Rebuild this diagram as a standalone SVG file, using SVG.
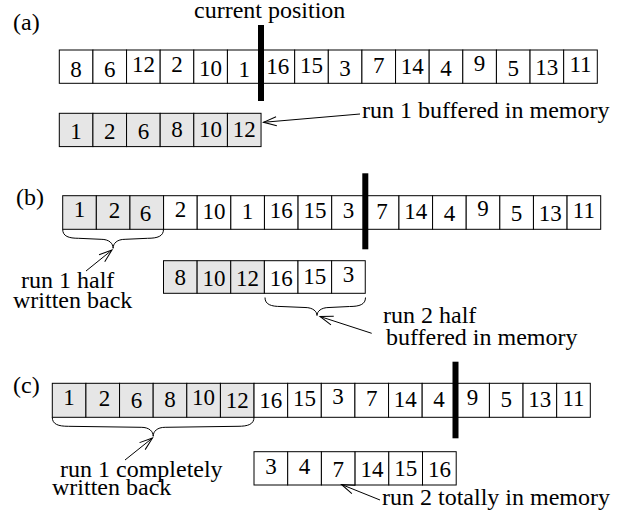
<svg xmlns="http://www.w3.org/2000/svg" width="625" height="518" viewBox="0 0 625 518">
<defs>
<style>
.c{fill:#fff;stroke:#000;stroke-width:1}
.g{fill:#e6e6e6;stroke:#000;stroke-width:1}
.n{font-family:"Liberation Serif","Times New Roman",serif;font-size:23px;text-anchor:middle;fill:#000}
.t{font-family:"Liberation Serif","Times New Roman",serif;font-size:24px;fill:#000}
.bar{fill:#000}
.br{fill:none;stroke:#000;stroke-width:1}
.ar{fill:none;stroke:#000;stroke-width:1}
</style>
<marker id="ah" markerUnits="userSpaceOnUse" markerWidth="16" markerHeight="12" refX="14" refY="6" orient="auto" viewBox="0 0 16 12">
<path d="M1,1.5 L14,6 L1,10.5" fill="none" stroke="#000" stroke-width="1"/>
</marker>
</defs>

<g id="labels">
<text class="t" x="13" y="30">(a)</text>
<text class="t" x="16" y="205">(b)</text>
<text class="t" x="13" y="393">(c)</text>
<text class="t" x="194" y="18">current position</text>
<text class="t" x="362" y="118">run 1 buffered in memory</text>
<text class="t" x="21" y="288">run 1 half</text>
<text class="t" x="13" y="308">written back</text>
<text class="t" x="383" y="323">run 2 half</text>
<text class="t" x="386" y="345">buffered in memory</text>
<text class="t" x="60" y="477">run 1 completely</text>
<text class="t" x="52" y="495">written back</text>
<text class="t" x="382" y="505">run 2 totally in memory</text>
</g>

<g id="array-a">
<rect class="c" x="59.3" y="50" width="33.625" height="33.3"/>
<rect class="c" x="92.925" y="50" width="33.625" height="33.3"/>
<rect class="c" x="126.55" y="50" width="33.625" height="33.3"/>
<rect class="c" x="160.175" y="50" width="33.625" height="33.3"/>
<rect class="c" x="193.8" y="50" width="33.625" height="33.3"/>
<rect class="c" x="227.425" y="50" width="33.625" height="33.3"/>
<rect class="c" x="261.05" y="50" width="33.625" height="33.3"/>
<rect class="c" x="294.675" y="50" width="33.625" height="33.3"/>
<rect class="c" x="328.3" y="50" width="33.625" height="33.3"/>
<rect class="c" x="361.925" y="50" width="33.625" height="33.3"/>
<rect class="c" x="395.55" y="50" width="33.625" height="33.3"/>
<rect class="c" x="429.175" y="50" width="33.625" height="33.3"/>
<rect class="c" x="462.8" y="50" width="33.625" height="33.3"/>
<rect class="c" x="496.425" y="50" width="33.625" height="33.3"/>
<rect class="c" x="530.05" y="50" width="33.625" height="33.3"/>
<rect class="c" x="563.675" y="50" width="33.625" height="33.3"/>
<text class="n" x="76.1" y="76.7">8</text>
<text class="n" x="109.7" y="76.7">6</text>
<text class="n" x="143.4" y="71.7">12</text>
<text class="n" x="177.0" y="71.7">2</text>
<text class="n" x="210.6" y="75.7">10</text>
<text class="n" x="244.2" y="76.7">1</text>
<text class="n" x="277.8" y="74.3">16</text>
<text class="n" x="311.5" y="73.3">15</text>
<text class="n" x="345.1" y="75.7">3</text>
<text class="n" x="378.7" y="73.3">7</text>
<text class="n" x="412.3" y="74.3">14</text>
<text class="n" x="446.0" y="75.7">4</text>
<text class="n" x="479.6" y="71">9</text>
<text class="n" x="513.2" y="75.7">5</text>
<text class="n" x="546.8" y="75">13</text>
<text class="n" x="580.5" y="71.7">11</text>
<rect class="bar" x="258" y="25" width="6" height="76"/>
</g>

<g id="memory-a">
<rect class="g" x="59.3" y="113.3" width="33.625" height="33.3"/>
<rect class="g" x="92.925" y="113.3" width="33.625" height="33.3"/>
<rect class="g" x="126.55" y="113.3" width="33.625" height="33.3"/>
<rect class="g" x="160.175" y="113.3" width="33.625" height="33.3"/>
<rect class="g" x="193.8" y="113.3" width="33.625" height="33.3"/>
<rect class="g" x="227.425" y="113.3" width="33.625" height="33.3"/>
<text class="n" x="76.1" y="139.3">1</text>
<text class="n" x="109.7" y="139.3">2</text>
<text class="n" x="143.4" y="139.3">6</text>
<text class="n" x="177.0" y="136.7">8</text>
<text class="n" x="210.6" y="136.7">10</text>
<text class="n" x="244.2" y="136.7">12</text>
</g>

<g id="array-b">
<rect class="g" x="62.7" y="195.7" width="33.625" height="33.6"/>
<rect class="g" x="96.325" y="195.7" width="33.625" height="33.6"/>
<rect class="g" x="129.95" y="195.7" width="33.625" height="33.6"/>
<rect class="c" x="163.575" y="195.7" width="33.625" height="33.6"/>
<rect class="c" x="197.2" y="195.7" width="33.625" height="33.6"/>
<rect class="c" x="230.825" y="195.7" width="33.625" height="33.6"/>
<rect class="c" x="264.45" y="195.7" width="33.625" height="33.6"/>
<rect class="c" x="298.075" y="195.7" width="33.625" height="33.6"/>
<rect class="c" x="331.7" y="195.7" width="33.625" height="33.6"/>
<rect class="c" x="365.325" y="195.7" width="33.625" height="33.6"/>
<rect class="c" x="398.95" y="195.7" width="33.625" height="33.6"/>
<rect class="c" x="432.575" y="195.7" width="33.625" height="33.6"/>
<rect class="c" x="466.2" y="195.7" width="33.625" height="33.6"/>
<rect class="c" x="499.825" y="195.7" width="33.625" height="33.6"/>
<rect class="c" x="533.45" y="195.7" width="33.625" height="33.6"/>
<rect class="c" x="567.075" y="195.7" width="33.625" height="33.6"/>
<text class="n" x="79.5" y="216.7">1</text>
<text class="n" x="114.5" y="218.3">2</text>
<text class="n" x="145.5" y="220.7">6</text>
<text class="n" x="180.4" y="216.7">2</text>
<text class="n" x="214.0" y="219.3">10</text>
<text class="n" x="247.6" y="219.3">1</text>
<text class="n" x="281.2" y="218.3">16</text>
<text class="n" x="314.9" y="218.3">15</text>
<text class="n" x="348.5" y="218.3">3</text>
<text class="n" x="382.1" y="219.3">7</text>
<text class="n" x="415.7" y="219.3">14</text>
<text class="n" x="449.4" y="220.7">4</text>
<text class="n" x="483.0" y="216">9</text>
<text class="n" x="516.6" y="220.7">5</text>
<text class="n" x="550.2" y="220.7">13</text>
<text class="n" x="583.9" y="218.3">11</text>
<rect class="bar" x="362.3" y="173.3" width="6" height="76"/>
</g>

<g id="memory-b">
<rect class="g" x="163.5" y="260.7" width="33.625" height="32.6"/>
<rect class="g" x="197.125" y="260.7" width="33.625" height="32.6"/>
<rect class="g" x="230.75" y="260.7" width="33.625" height="32.6"/>
<rect class="c" x="264.375" y="260.7" width="33.625" height="32.6"/>
<rect class="c" x="298" y="260.7" width="33.625" height="32.6"/>
<rect class="c" x="331.625" y="260.7" width="33.625" height="32.6"/>
<text class="n" x="180.3" y="285">8</text>
<text class="n" x="213.9" y="286">10</text>
<text class="n" x="247.6" y="286">12</text>
<text class="n" x="281.2" y="286">16</text>
<text class="n" x="314.8" y="284">15</text>
<text class="n" x="348.4" y="281.7">3</text>
</g>

<g id="array-c">
<rect class="g" x="52.3" y="383.3" width="33.625" height="34"/>
<rect class="g" x="85.925" y="383.3" width="33.625" height="34"/>
<rect class="g" x="119.55" y="383.3" width="33.625" height="34"/>
<rect class="g" x="153.175" y="383.3" width="33.625" height="34"/>
<rect class="g" x="186.8" y="383.3" width="33.625" height="34"/>
<rect class="g" x="220.425" y="383.3" width="33.625" height="34"/>
<rect class="c" x="254.05" y="383.3" width="33.625" height="34"/>
<rect class="c" x="287.675" y="383.3" width="33.625" height="34"/>
<rect class="c" x="321.3" y="383.3" width="33.625" height="34"/>
<rect class="c" x="354.925" y="383.3" width="33.625" height="34"/>
<rect class="c" x="388.55" y="383.3" width="33.625" height="34"/>
<rect class="c" x="422.175" y="383.3" width="33.625" height="34"/>
<rect class="c" x="455.8" y="383.3" width="33.625" height="34"/>
<rect class="c" x="489.425" y="383.3" width="33.625" height="34"/>
<rect class="c" x="523.05" y="383.3" width="33.625" height="34"/>
<rect class="c" x="556.675" y="383.3" width="33.625" height="34"/>
<text class="n" x="69.1" y="404.7">1</text>
<text class="n" x="104.5" y="406.3">2</text>
<text class="n" x="136.4" y="408">6</text>
<text class="n" x="170.0" y="407.3">8</text>
<text class="n" x="203.6" y="404.7">10</text>
<text class="n" x="237.2" y="408">12</text>
<text class="n" x="270.8" y="408">16</text>
<text class="n" x="304.5" y="406.3">15</text>
<text class="n" x="338.1" y="404">3</text>
<text class="n" x="371.7" y="406.3">7</text>
<text class="n" x="405.3" y="407.3">14</text>
<text class="n" x="439.0" y="407.3">4</text>
<text class="n" x="472.6" y="404.7">9</text>
<text class="n" x="506.2" y="407.3">5</text>
<text class="n" x="539.8" y="407.3">13</text>
<text class="n" x="573.5" y="406.3">11</text>
<rect class="bar" x="452.5" y="361.7" width="6" height="76.6"/>
</g>

<g id="memory-c">
<rect class="c" x="254" y="451.7" width="33.7" height="33.3"/>
<rect class="c" x="287.7" y="451.7" width="33.7" height="33.3"/>
<rect class="c" x="321.4" y="451.7" width="33.7" height="33.3"/>
<rect class="c" x="355.1" y="451.7" width="33.7" height="33.3"/>
<rect class="c" x="388.8" y="451.7" width="33.7" height="33.3"/>
<rect class="c" x="422.5" y="451.7" width="33.7" height="33.3"/>
<text class="n" x="270.9" y="474">3</text>
<text class="n" x="304.6" y="474">4</text>
<text class="n" x="338.3" y="476.7">7</text>
<text class="n" x="372.0" y="476.7">14</text>
<text class="n" x="405.7" y="476">15</text>
<text class="n" x="439.4" y="476.7">16</text>
</g>

<g id="connectors">
<path class="br" d="M62.7,229.3 C62.7,236.3 68.7,238.3 78.7,238.3 L101.1,239.3 C109.1,239.3 113.1,243.3 113.1,248.3 C113.1,243.3 117.1,239.3 125.1,239.3 L147.5,238.3 C157.5,238.3 163.5,236.3 163.5,229.3"/>
<path class="br" d="M265,297.5 C265,304.5 271,306.5 281,306.5 L305,307.5 C313,307.5 317,311.5 317,315.5 C317,311.5 321,307.5 329,307.5 L349.5,306.5 C359.5,306.5 365.5,304.5 365.5,297.5"/>
<path class="br" d="M52.3,417.3 C52.3,424.3 58.3,426.3 68.3,426.3 L141.2,427.3 C149.2,427.3 153.2,431.3 153.2,436.3 C153.2,431.3 157.2,427.3 165.2,427.3 L238,426.3 C248,426.3 254,424.3 254,417.3"/>
<line class="ar" x1="360" y1="114" x2="263.5" y2="122.3" marker-end="url(#ah)"/>
<line class="ar" x1="86" y1="271" x2="112" y2="250" marker-end="url(#ah)"/>
<line class="ar" x1="371.7" y1="333.3" x2="320" y2="316.5" marker-end="url(#ah)"/>
<line class="ar" x1="125" y1="460" x2="152.5" y2="438" marker-end="url(#ah)"/>
<line class="ar" x1="380" y1="500" x2="341.5" y2="484.5" marker-end="url(#ah)"/>
</g>
</svg>
